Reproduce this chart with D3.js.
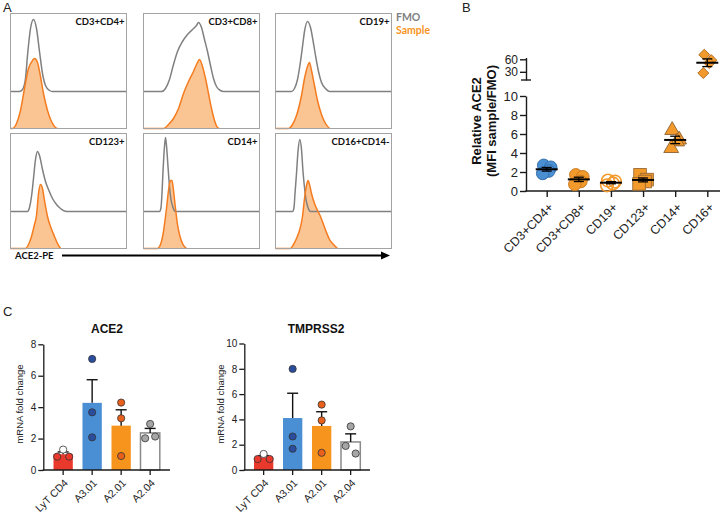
<!DOCTYPE html>
<html><head><meta charset="utf-8">
<script src="https://cdn.jsdelivr.net/npm/d3@7"></script>
<style>body{margin:0;background:#fff}svg{display:block}</style>
</head><body>
<svg id="c" width="723" height="516"></svg>
<script>
// ================= DATA =================
// Panel A: flow histograms, points [relative channel position, event height]
const histLabels = ["CD3+CD4+","CD3+CD8+","CD19+","CD123+","CD14+","CD16+CD14-"];
const fmoCurves = [
  [[0,0],[9,0],[12,2],[15,13],[17,36],[20,63],[23,72],[26,63],[29,40],[32,18],[35,6],[39,1],[42,0],[116,0]],
  [[0,0],[18,0],[22,3],[26,12],[30,27],[34,40],[39,50],[44,57],[49,62],[53,66],[55,69],[58,64],[61,52],[64,40],[67,26],[70,13],[73,5],[77,1],[80,0],[116,0]],
  [[0,0],[16,0],[19,3],[22,12],[25,30],[27,45],[29,60],[32,70],[35,64],[38,48],[40,36],[43,20],[46,9],[50,3],[54,0],[116,0]],
  [[0,0],[17,0],[19,4],[21,15],[23,33],[25,52],[27,60],[29,56],[32,42],[35,30],[38,22],[42,13],[46,7],[50,3],[56,0],[116,0]],
  [[0,0],[16,0],[17.5,4],[18.5,18],[19.5,40],[21,65],[22,74],[23,66],[24.5,45],[26,25],[27.5,12],[29.5,4],[32,0],[116,0]],
  [[0,0],[17,0],[18.5,4],[19.5,18],[21,38],[22.5,60],[24.3,72],[26,62],[27.5,40],[29,24],[30.5,12],[32.5,4],[35,0],[116,0]]
];
const sampleCurves = [
  [[0,0],[2,0],[6,5],[10,18],[14,40],[18,60],[22,68],[24,70],[27,66],[30,52],[33,35],[37,18],[41,7],[45,1],[47,0]],
  [[0,0],[20,0],[25,4],[30,10],[35,20],[40,35],[45,47],[50,57],[54,66],[56,69],[59,62],[62,50],[65,35],[68,20],[71,8],[74,1],[76,0]],
  [[0,0],[13,0],[17,4],[21,13],[26,33],[29,50],[32,62],[34,66],[36,58],[39,43],[42,28],[46,14],[50,5],[54,0]],
  [[0,0],[15,0],[18,4],[21,12],[24,24],[26,33],[28,55],[30,64],[32,60],[34,48],[37,32],[40,22],[44,12],[47,5],[50,0]],
  [[0,0],[14,0],[17,4],[19.5,14],[21.5,28],[23,40],[25,58],[27,68],[28.5,68],[30,58],[32,40],[34,24],[36.5,12],[39.5,4],[43,0]],
  [[0,0],[15,0],[18,4],[21,10],[24,18],[27,32],[29,50],[31,63],[32.6,68],[34,64],[36,55],[39,45],[42,38],[45,32],[48,24],[51,16],[54,9],[58,4],[62,0]]
];
const legendLabels = ["FMO","Sample"];
const axisLabelA = "ACE2-PE";

// Panel B: relative ACE2 (MFI sample / FMO)
const bCategories = ["CD3+CD4+","CD3+CD8+","CD19+","CD123+","CD14+","CD16+"];
const bValues = [
  [2.7,2.5,2.1,1.85],
  [1.7,1.5,1.0,0.7],
  [1.1,1.0,0.8,0.6],
  [1.7,1.2,1.0,0.75],
  [6.4,5.4,5.2,4.5],
  [71,58,51,27]
];
const bTicksLow = [0,2,4,6,8,10];
const bTicksHigh = [30,60];

// Panel C: mRNA fold change
const cCategories = ["LyT CD4","A3.01","A2.01","A2.04"];
const ace2Values = [[1.3,0.85,0.85],[7.07,3.67,2.08],[4.29,3.29,0.89],[2.93,2.02,2.13]];
const tmprss2Values = [[1.27,0.87,0.87],[7.99,2.65,1.68],[5.17,3.92,1.36],[3.45,1.9,1.3]];
const ace2Ticks = [0,2,4,6,8];
const tmprss2Ticks = [0,2,4,6,8,10];

// ================= STYLES =================
const FMO_COL = "#808080", SAMPLE_LINE = "#f47c20", SAMPLE_FILL = "#fbc593";
const bShapes = ["circle","circle","open","square","triangle","diamond"];
const bFill = ["#4a8fd1","#f39a2d","none","#f39a2d","#f39a2d","#f39a2d"];
const bStroke = ["#2f6aa6","#c8761c","#f39a2d","#9a6a30","#8a6030","#b06a1a"];
const cBarFill = ["#e8392c","#4a8fd3","#f7941d","#ffffff"];
const cDotFill = ["#e8392c","#2b4d9e","#e8601c","#a6a6a6"];
const AX = "#1a1a1a";

const svg = d3.select("#c");
const mean = a => d3.mean(a);
const sem = a => d3.deviation(a) / Math.sqrt(a.length);

// panel letters
[["A",3,12],["B",462,12],["C",3,316]].forEach(([t,x,y]) =>
  svg.append("text").attr("x",x).attr("y",y).text(t)
    .style("font-family","Liberation Sans, Arial").style("font-size","13px").attr("fill","#222"));

// ================= PANEL A =================
const gA = svg.append("g");
const boxX = [10.5, 143.5, 275.5], rowY = [13.5, 133.5], BW = 116, BH = 115, FMO_OFF = 37;
histLabels.forEach((lab, i) => {
  const col = i % 3, row = Math.floor(i / 3);
  const x0 = boxX[col], y0 = rowY[row];
  const xs = d3.scaleLinear().domain([0,116]).range([x0, x0 + BW]);
  const ys = d3.scaleLinear().domain([0,115]).range([y0 + BH, y0]);
  const g = gA.append("g");
  g.append("path").datum(sampleCurves[i])
    .attr("d", d3.area().x(d => xs(d[0])).y0(ys(0)).y1(d => ys(d[1])).curve(d3.curveMonotoneX))
    .attr("fill", SAMPLE_FILL);
  g.append("path").datum(fmoCurves[i])
    .attr("d", d3.line().x(d => xs(d[0])).y(d => ys(d[1] + FMO_OFF)).curve(d3.curveMonotoneX))
    .attr("fill","none").attr("stroke",FMO_COL).attr("stroke-width",1.5);
  g.append("path").datum(sampleCurves[i])
    .attr("d", d3.line().x(d => xs(d[0])).y(d => ys(d[1])).curve(d3.curveMonotoneX))
    .attr("fill","none").attr("stroke",SAMPLE_LINE).attr("stroke-width",1.5);
  g.append("rect").attr("x",x0).attr("y",y0).attr("width",BW).attr("height",BH)
    .attr("fill","none").attr("stroke","#a3a3a3").attr("stroke-width",1);
  g.append("text").attr("x", x0 + BW - 2).attr("y", y0 + 11).attr("text-anchor","end")
    .style("font-family","Lato, Liberation Sans").style("font-weight","bold").style("font-size","9.5px")
    .attr("fill","#111").text(lab);
});
gA.append("text").attr("x",396).attr("y",21).text(legendLabels[0])
  .style("font-family","Lato").style("font-weight","bold").style("font-size","10.5px").attr("fill","#808080");
gA.append("text").attr("x",396).attr("y",34).text(legendLabels[1])
  .style("font-family","Lato").style("font-weight","bold").style("font-size","10.5px").attr("fill","#f7941d");
gA.append("text").attr("x",15).attr("y",259).text(axisLabelA)
  .style("font-family","Lato").style("font-weight","bold").style("font-size","9.5px").attr("fill","#111");
gA.append("line").attr("x1",62).attr("x2",382).attr("y1",255.5).attr("y2",255.5)
  .attr("stroke","#000").attr("stroke-width",1.8);
gA.append("path").attr("d","M381,251.5 L390,255.5 L381,259.5 Z").attr("fill","#000");

// ================= PANEL B =================
const gB = svg.append("g");
const yLow = d3.scaleLinear().domain([0,10]).range([191,96]);
const yHighBase = d3.scaleLinear().domain([30,60]).range([71.8,59.3]);
const yHigh = d3.scaleLinear().domain([yHighBase.invert(80), yHighBase.invert(57.5)]).range([80,57.5]);
const yB = v => v > 10.5 ? yHigh(v) : yLow(v);
const xB = d3.scalePoint().domain(bCategories).range([546.7, 707.3]);
const bFont = (size) => g => g.selectAll("text").style("font-family","Liberation Sans, Arial").style("font-size",size).attr("fill","#222");

const axLow = gB.append("g").attr("transform","translate(526,0)")
  .call(d3.axisLeft(yLow).tickValues(bTicksLow).tickSize(6).tickSizeOuter(0).tickPadding(2)).call(bFont("13px"));
const axHigh = gB.append("g").attr("transform","translate(526,0)")
  .call(d3.axisLeft(yHigh).tickValues(bTicksHigh).tickSize(6).tickSizeOuter(0).tickPadding(2)).call(bFont("12px"));
axHigh.selectAll("text").attr("dy","0.34em");
[axLow, axHigh].forEach(a => { a.selectAll("path,line").attr("stroke",AX).attr("stroke-width",1.4); });
gB.append("line").attr("x1",521).attr("x2",531).attr("y1",80).attr("y2",80).attr("stroke",AX).attr("stroke-width",1.4);

const axX = gB.append("g").attr("transform","translate(0,191)")
  .call(d3.axisBottom(xB).tickSize(6).tickSizeOuter(0)).call(bFont("12.5px"));
axX.select(".domain").remove();
axX.selectAll("line").attr("stroke",AX).attr("stroke-width",1.4);
axX.selectAll("text").attr("text-anchor","end").attr("x",0).attr("y",0).attr("dy","0.35em")
  .attr("transform","translate(4,14) rotate(-45)");
gB.append("line").attr("x1",525.3).attr("x2",720).attr("y1",191).attr("y2",191).attr("stroke",AX).attr("stroke-width",1.4);

gB.append("text").attr("transform","translate(481,121) rotate(-90)").attr("text-anchor","middle")
  .style("font-family","Liberation Sans, Arial").style("font-weight","bold").style("font-size","13px").attr("fill","#111")
  .text("Relative ACE2");
gB.append("text").attr("transform","translate(495.5,121) rotate(-90)").attr("text-anchor","middle")
  .style("font-family","Liberation Sans, Arial").style("font-weight","bold").style("font-size","13px").attr("fill","#111")
  .text("(MFI sample/FMO)");

const jit = [-3, 4, 2, -4];
bCategories.forEach((cat, i) => {
  const cx = xB(cat);
  const vals = bValues[i];
  vals.forEach((v, j) => {
    const x = cx + jit[j], y = yB(v);
    const s = bShapes[i];
    let el;
    if (s === "circle" || s === "open") {
      el = gB.append("circle").attr("cx",x).attr("cy",y).attr("r",6.3);
    } else if (s === "square") {
      el = gB.append("rect").attr("x",x-6.3).attr("y",y-6.3).attr("width",12.6).attr("height",12.6);
    } else if (s === "triangle") {
      el = gB.append("path").attr("d", d3.symbol(d3.symbolTriangle, 95)()).attr("transform",`translate(${x},${y})`);
    } else {
      el = gB.append("path").attr("d", d3.symbol(d3.symbolSquare, 60)()).attr("transform",`translate(${x},${y}) rotate(45)`);
    }
    el.attr("fill", bFill[i]).attr("stroke", bStroke[i]).attr("stroke-width", s === "open" ? 1.6 : 0.9)
      .attr("fill-opacity", s === "open" ? 0 : 1);
  });
  const m = mean(vals), e = sem(vals);
  gB.append("line").attr("x1",cx-11).attr("x2",cx+11).attr("y1",yB(m)).attr("y2",yB(m)).attr("stroke","#000").attr("stroke-width",2);
  gB.append("line").attr("x1",cx).attr("x2",cx).attr("y1",yB(m-e)).attr("y2",yB(m+e)).attr("stroke","#000").attr("stroke-width",1.3);
  [m-e, m+e].forEach(v => gB.append("line").attr("x1",cx-5).attr("x2",cx+5).attr("y1",yB(v)).attr("y2",yB(v)).attr("stroke","#000").attr("stroke-width",1.3));
});

// ================= PANEL C =================
function barPanel(opts) {
  const { title, values, ticks, xAxis, xEnd, titleX, yTop, yMax, labelX } = opts;
  const g = svg.append("g");
  const y = d3.scaleLinear().domain([0, yMax]).range([470, yTop]);
  const x = d3.scaleBand().domain(cCategories).range([xAxis, xEnd]).paddingInner(0.334)
    .paddingOuter(((xEnd - xAxis) / 29 - 4 + 0.334) / 2);
  const cf = (size) => s => s.selectAll("text").style("font-family","Liberation Sans, Arial").style("font-size",size).attr("fill","#222");
  values.forEach((vals, i) => {
    const m = mean(vals), e = sem(vals);
    const bx = x(cCategories[i]), bw = x.bandwidth(), cx = bx + bw / 2;
    g.append("rect").attr("x",bx).attr("y",y(m)).attr("width",bw).attr("height",470 - y(m))
      .attr("fill",cBarFill[i]).attr("stroke", i === 3 ? "#8a8a8a" : "none").attr("stroke-width",1.5);
    g.append("line").attr("x1",cx).attr("x2",cx).attr("y1",y(m)).attr("y2",y(m+e)).attr("stroke","#111").attr("stroke-width",1.4);
    g.append("line").attr("x1",cx-5.5).attr("x2",cx+5.5).attr("y1",y(m+e)).attr("y2",y(m+e)).attr("stroke","#111").attr("stroke-width",1.4);
    const offs = i === 0 ? [0,-6,6] : (i === 3 ? [0,-5,5] : [0,0,0]);
    vals.forEach((v, j) => {
      g.append("circle").attr("cx",cx + offs[j]).attr("cy",y(v)).attr("r",3.6)
        .attr("fill", (i === 0 && j === 0) ? "#fff" : cDotFill[i]).attr("stroke","#333").attr("stroke-width",0.8);
    });
  });
  const ya = g.append("g").attr("transform",`translate(${xAxis},0)`)
    .call(d3.axisLeft(y).tickValues(ticks).tickSize(5).tickSizeOuter(0).tickPadding(2)).call(cf("10px"));
  ya.selectAll("path,line").attr("stroke",AX).attr("stroke-width",1.3);
  const xa = g.append("g").attr("transform","translate(0,470)")
    .call(d3.axisBottom(x).tickSize(5).tickSizeOuter(0)).call(cf("10.5px"));
  xa.select(".domain").remove();
  xa.selectAll("line").attr("stroke",AX).attr("stroke-width",1.3);
  xa.selectAll("text").attr("text-anchor","end").attr("x",0).attr("y",0).attr("dy","0.35em")
    .attr("transform","translate(3,11) rotate(-45)");
  g.append("line").attr("x1",xAxis - 0.6).attr("x2",xEnd).attr("y1",470).attr("y2",470).attr("stroke",AX).attr("stroke-width",1.3);
  g.append("text").attr("x",titleX).attr("y",333).attr("text-anchor","middle")
    .style("font-family","Liberation Sans, Arial").style("font-weight","bold").style("font-size","12px").attr("fill","#111").text(title);
  g.append("text").attr("transform",`translate(${labelX},404) rotate(-90)`).attr("text-anchor","middle")
    .style("font-family","Liberation Sans, Arial").style("font-size","9.5px").attr("fill","#222").text("mRNA fold change");
}
barPanel({ title:"ACE2", values:ace2Values, ticks:ace2Ticks, xAxis:43.3, xEnd:170, titleX:107, yTop:344.3, yMax:8, labelX:22.5 });
barPanel({ title:"TMPRSS2", values:tmprss2Values, ticks:tmprss2Ticks, xAxis:244.3, xEnd:370, titleX:316, yTop:343.5, yMax:10, labelX:224 });
</script>
</body></html>
